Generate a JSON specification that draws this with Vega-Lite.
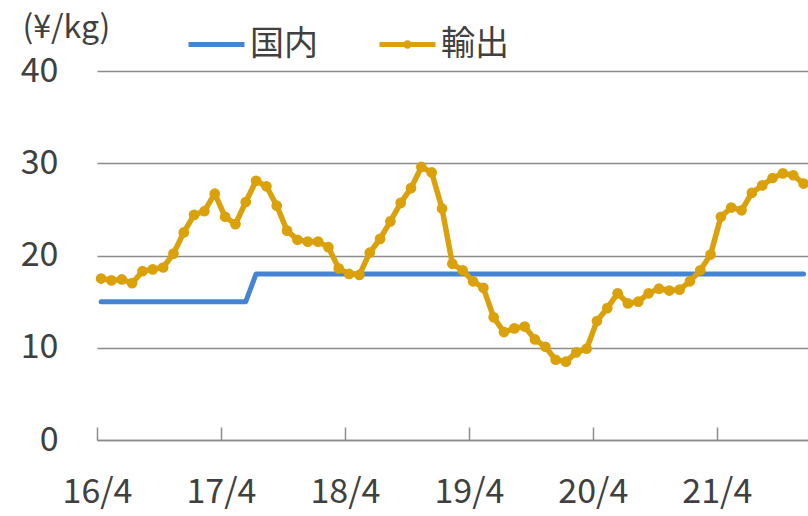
{
  "$schema": "https://vega.github.io/schema/vega-lite/v6.json",
  "width": 711,
  "height": 369,
  "autosize": {"type": "none"},
  "padding": {"left": 97, "top": 71, "right": 0, "bottom": 76},
  "background": "white",
  "config": {"view": {"stroke": null}, "font": "Noto Sans CJK JP"},
  "datasets": {
    "domestic": [
      {"t": 0, "series": "国内", "value": 15}, {"t": 14, "series": "国内", "value": 15},
      {"t": 15, "series": "国内", "value": 18}, {"t": 68, "series": "国内", "value": 18}
    ],
    "export": [
      {"t": 0, "series": "輸出", "value": 17.5}, {"t": 1, "series": "輸出", "value": 17.3},
      {"t": 2, "series": "輸出", "value": 17.4}, {"t": 3, "series": "輸出", "value": 17.0},
      {"t": 4, "series": "輸出", "value": 18.3}, {"t": 5, "series": "輸出", "value": 18.5},
      {"t": 6, "series": "輸出", "value": 18.7}, {"t": 7, "series": "輸出", "value": 20.2},
      {"t": 8, "series": "輸出", "value": 22.5}, {"t": 9, "series": "輸出", "value": 24.4},
      {"t": 10, "series": "輸出", "value": 24.8}, {"t": 11, "series": "輸出", "value": 26.7},
      {"t": 12, "series": "輸出", "value": 24.2}, {"t": 13, "series": "輸出", "value": 23.4},
      {"t": 14, "series": "輸出", "value": 25.8}, {"t": 15, "series": "輸出", "value": 28.1},
      {"t": 16, "series": "輸出", "value": 27.5}, {"t": 17, "series": "輸出", "value": 25.4},
      {"t": 18, "series": "輸出", "value": 22.7}, {"t": 19, "series": "輸出", "value": 21.7},
      {"t": 20, "series": "輸出", "value": 21.5}, {"t": 21, "series": "輸出", "value": 21.5},
      {"t": 22, "series": "輸出", "value": 20.9}, {"t": 23, "series": "輸出", "value": 18.6},
      {"t": 24, "series": "輸出", "value": 18.0}, {"t": 25, "series": "輸出", "value": 17.9},
      {"t": 26, "series": "輸出", "value": 20.3}, {"t": 27, "series": "輸出", "value": 21.8},
      {"t": 28, "series": "輸出", "value": 23.7}, {"t": 29, "series": "輸出", "value": 25.7},
      {"t": 30, "series": "輸出", "value": 27.3}, {"t": 31, "series": "輸出", "value": 29.6},
      {"t": 32, "series": "輸出", "value": 29.0}, {"t": 33, "series": "輸出", "value": 25.1},
      {"t": 34, "series": "輸出", "value": 19.1}, {"t": 35, "series": "輸出", "value": 18.4},
      {"t": 36, "series": "輸出", "value": 17.2}, {"t": 37, "series": "輸出", "value": 16.5},
      {"t": 38, "series": "輸出", "value": 13.3}, {"t": 39, "series": "輸出", "value": 11.7},
      {"t": 40, "series": "輸出", "value": 12.1}, {"t": 41, "series": "輸出", "value": 12.3},
      {"t": 42, "series": "輸出", "value": 10.9}, {"t": 43, "series": "輸出", "value": 10.1},
      {"t": 44, "series": "輸出", "value": 8.7}, {"t": 45, "series": "輸出", "value": 8.5},
      {"t": 46, "series": "輸出", "value": 9.5}, {"t": 47, "series": "輸出", "value": 9.9},
      {"t": 48, "series": "輸出", "value": 12.9}, {"t": 49, "series": "輸出", "value": 14.3},
      {"t": 50, "series": "輸出", "value": 15.9}, {"t": 51, "series": "輸出", "value": 14.8},
      {"t": 52, "series": "輸出", "value": 15.0}, {"t": 53, "series": "輸出", "value": 15.9},
      {"t": 54, "series": "輸出", "value": 16.4}, {"t": 55, "series": "輸出", "value": 16.2},
      {"t": 56, "series": "輸出", "value": 16.3}, {"t": 57, "series": "輸出", "value": 17.2},
      {"t": 58, "series": "輸出", "value": 18.4}, {"t": 59, "series": "輸出", "value": 20.1},
      {"t": 60, "series": "輸出", "value": 24.2}, {"t": 61, "series": "輸出", "value": 25.2},
      {"t": 62, "series": "輸出", "value": 24.9}, {"t": 63, "series": "輸出", "value": 26.8},
      {"t": 64, "series": "輸出", "value": 27.6}, {"t": 65, "series": "輸出", "value": 28.4},
      {"t": 66, "series": "輸出", "value": 28.9}, {"t": 67, "series": "輸出", "value": 28.7},
      {"t": 68, "series": "輸出", "value": 27.8}
    ]
  },
  "encoding": {
    "x": {
      "field": "t",
      "type": "quantitative",
      "scale": {"domain": [-0.4, 68.43], "nice": false, "zero": false},
      "axis": {
        "title": null,
        "values": [-0.4, 11.6, 23.6, 35.6, 47.6, 59.6],
        "labelExpr": "['16/4','17/4','18/4','19/4','20/4','21/4'][round((datum.value + 0.4) / 12)]",
        "grid": false,
        "domainColor": "#8c8c8c",
        "domainWidth": 1.5,
        "tickColor": "#8c8c8c",
        "tickWidth": 1.5,
        "tickSize": -13,
        "labelPadding": 48,
        "labelDx": 7,
        "labelFontSize": 34,
        "labelColor": "#404040",
        "labelFlush": false,
        "labelOverlap": false
      }
    },
    "y": {
      "field": "value",
      "type": "quantitative",
      "scale": {"domain": [0, 40], "nice": false},
      "axis": {
        "values": [0, 10, 20, 30, 40],
        "grid": true,
        "gridColor": "#8c8c8c",
        "gridWidth": 1.5,
        "domain": false,
        "ticks": false,
        "labelPadding": 39,
        "labelFontSize": 34,
        "labelColor": "#404040",
        "title": "(¥/kg)",
        "titleAngle": 0,
        "titleX": -75,
        "titleY": -44,
        "titleAlign": "left",
        "titleBaseline": "middle",
        "titleFontSize": 32,
        "titleFontWeight": "normal",
        "titleColor": "#404040"
      }
    }
  },
  "layer": [
    {
      "data": {"name": "domestic"},
      "mark": {"type": "line", "strokeWidth": 5, "strokeCap": "round", "strokeJoin": "round"},
      "encoding": {
        "color": {
          "field": "series",
          "type": "nominal",
          "scale": {"domain": ["国内"], "range": ["#4584d3"]},
          "legend": {
            "orient": "none",
            "legendX": 89,
            "legendY": -57,
            "title": null,
            "symbolType": "stroke",
            "symbolSize": 3136,
            "symbolStrokeWidth": 5,
            "labelFontSize": 34,
            "labelColor": "#404040",
            "labelOffset": 3,
            "padding": 0
          }
        }
      }
    },
    {
      "data": {"name": "export"},
      "mark": {"type": "line", "strokeWidth": 5.5, "strokeJoin": "round", "point": {"filled": true, "size": 115}},
      "encoding": {
        "color": {
          "field": "series",
          "type": "nominal",
          "scale": {"domain": ["輸出"], "range": ["#dba10b"]},
          "legend": {
            "orient": "none",
            "legendX": 280,
            "legendY": -57,
            "title": null,
            "symbolType": "M-1,0L1,0M0.06,0A0.06,0.06,0,1,1,-0.06,0A0.06,0.06,0,1,1,0.06,0",
            "symbolSize": 3136,
            "symbolStrokeWidth": 5,
            "symbolFillColor": "#dba10b",
            "labelFontSize": 34,
            "labelColor": "#404040",
            "labelOffset": 3,
            "padding": 0
          }
        }
      }
    }
  ],
  "resolve": {"scale": {"color": "independent"}, "legend": {"color": "independent"}}
}
